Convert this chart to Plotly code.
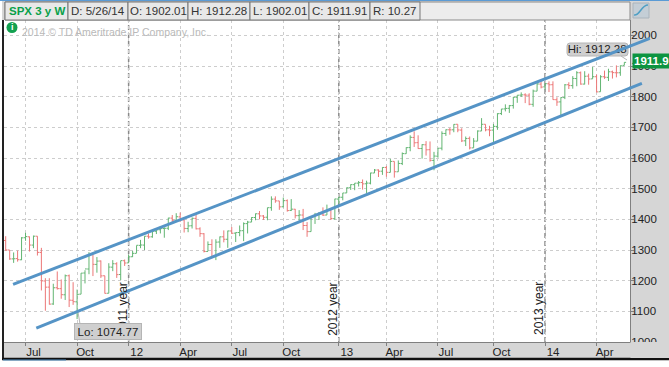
import plotly.graph_objects as go
import pandas as pd

W, H = 669, 367
ML, MR, MT, MB = 4, 39, 20, 25

week_start = "2011-05-30"
opens = [1331,1300,1271,1272,1268,1340,1343,1316,1345,1292,1199,1179,1124,1177,1174,1154,1216,1136,1131,1156,
 1225,1238,1285,1253,1264,1216,1159,1244,1255,1220,1265,1258,1278,1289,1315,1316,1345,1343,1361,1366,
 1370,1371,1404,1397,1408,1398,1370,1379,1403,1369,1353,1295,1318,1278,1326,1343,1335,1362,1355,1357,
 1363,1386,1391,1406,1418,1411,1407,1438,1466,1460,1441,1461,1429,1433,1412,1414,1380,1360,1409,1416,
 1418,1414,1430,1402,1466,1472,1486,1503,1513,1518,1520,1516,1518,1551,1561,1557,1569,1553,1589,1555,
 1582,1614,1634,1667,1650,1631,1643,1627,1592,1606,1632,1680,1692,1692,1710,1691,1656,1664,1633,1655,
 1688,1710,1692,1691,1703,1745,1760,1762,1771,1798,1805,1806,1805,1775,1818,1841,1832,1842,1839,1790,
 1783,1797,1839,1836,1859,1878,1841,1867,1858,1865,1816,1865,1863,1881,1878,1878,1902.01]
highs = [1345,1300,1292,1298,1342,1356,1344,1347,1345,1307,1208,1208,1190,1230,1204,1220,1220,1195,1171,1224.6,
 1234,1293,1285,1277,1266,1216,1257,1267,1260,1265,1269,1285,1297,1315,1333,1345,1354,1362,1368,1378,
 1374,1405,1414,1420,1422,1398,1392,1406,1415,1374,1355,1328,1335,1335,1344,1364,1363,1375,1357,1380,
 1390,1395,1407,1419,1427,1414,1438,1475,1475,1460,1471,1465,1466,1434,1430,1434,1391,1409,1421,1424,
 1439,1448,1430,1467,1473,1486,1504,1514,1518,1525,1530,1526,1552,1564,1563,1570,1574,1597,1589,1592,
 1618,1635,1674,1687,1674,1645,1655,1654,1620,1632,1687,1693,1698,1710,1710,1697,1670,1670,1665,1690,
 1730,1710,1705,1711,1746,1760,1775,1773,1799,1805,1814,1811,1811,1823,1844,1849,1843,1850,1850,1798,
 1798,1841,1847,1867,1883,1882,1883,1875,1897,1872,1870,1885,1891,1885,1902,1902,1912.28]
lows = [1297,1268,1258,1262,1267,1330,1295,1306,1282,1168,1102,1122,1121,1171,1141,1137,1114,1121,1074.77,1156,
 1191,1221,1215,1226,1209,1158,1159,1231,1209,1202,1248,1258,1277,1290,1306,1300,1337,1340,1352,1354,
 1340,1365,1386,1397,1392,1357,1358,1370,1367,1343,1292,1296,1277,1267,1307,1325,1307,1352,1326,1345,
 1329,1354,1391,1397,1400,1398,1397,1428,1454,1431,1439,1425,1427,1403,1396,1365,1343,1360,1385,1398,
 1411,1414,1398,1399,1451,1462,1486,1496,1495,1507,1497,1485,1514,1551,1538,1545,1539,1553,1536,1555,
 1577,1614,1622,1636,1630,1598,1608,1588,1560,1601,1625,1672,1676,1684,1684,1652,1639,1628,1633,1655,
 1688,1687,1671,1646,1692,1740,1752,1747,1761,1780,1799,1779,1772,1767,1818,1827,1823,1815,1790,1770,
 1737,1792,1825,1826,1834,1839,1840,1839,1858,1814,1816,1858,1851,1859,1863,1868,1902.01]
closes = [1300.16,1270.98,1271.50,1268.45,1339.67,1343.80,1316.14,1345.02,1292.28,1199.38,1178.81,1123.53,1176.80,1173.97,1154.23,1216.01,1136.43,1131.42,1155.46,1224.58,
 1238.25,1285.09,1253.23,1263.85,1215.65,1158.67,1244.28,1255.19,1219.66,1265.33,1257.60,1277.81,1289.09,1315.38,1316.33,1344.90,1342.64,1361.23,1365.74,1369.63,
 1370.87,1404.17,1397.11,1408.47,1398.08,1370.26,1378.53,1403.36,1369.10,1353.39,1295.22,1317.82,1278.04,1325.66,1342.84,1335.02,1362.16,1354.68,1356.78,1362.66,
 1385.97,1390.99,1405.87,1418.16,1411.13,1406.58,1437.92,1465.77,1460.15,1440.67,1460.93,1428.59,1433.19,1411.94,1414.20,1379.85,1359.88,1409.15,1416.18,1418.10,
 1413.58,1430.15,1402.43,1466.47,1472.05,1485.98,1502.96,1513.17,1517.93,1519.79,1515.60,1518.20,1551.18,1560.70,1556.89,1569.19,1553.28,1588.85,1555.25,1582.24,
 1614.42,1633.70,1667.47,1649.60,1630.74,1643.38,1626.73,1592.43,1606.28,1631.89,1680.19,1692.09,1691.65,1709.67,1691.42,1655.83,1663.50,1632.97,1655.17,1687.99,
 1709.91,1691.75,1690.50,1703.20,1744.50,1759.77,1761.64,1770.61,1798.18,1804.76,1805.81,1805.09,1775.32,1818.32,1841.40,1831.37,1842.37,1838.70,1790.29,1782.59,
 1797.02,1838.63,1836.25,1859.45,1878.04,1841.13,1866.52,1857.62,1865.09,1815.69,1864.85,1863.40,1881.14,1878.48,1877.86,1900.53,1911.91]

tick_dates = ["2011-07-04","2011-10-03","2012-01-02","2012-04-02","2012-07-02","2012-10-01",
              "2013-01-07","2013-04-01","2013-07-01","2013-10-07","2014-01-06","2014-04-07"]
tick_labels = ["Jul","Oct","12","Apr","Jul","Oct","13","Apr","Jul","Oct","14","Apr"]
price_ticks = [1000,1100,1200,1300,1400,1500,1600,1700,1800,1900,2000]
year_dates = ["2012-01-02","2013-01-07","2014-01-06"]
year_labels = ["2011 year","2012 year","2013 year"]
upper_x = ["2011-06-12","2014-07-10"]
upper_y = [1188,1990]
lower_x = ["2011-07-23","2014-06-26"]
lower_y = [1045,1843.5]
x_range = ["2011-05-27","2014-06-05"]
y_range = [1000,2050]
header_cells = [("SPX 3 y W",5,68),("D: 5/26/14",68,128),("O: 1902.01",128,188),("H: 1912.28",188,250),
                ("L: 1902.01",250,309),("C: 1911.91",309,370),("R: 10.27",370,420)]

dates = pd.date_range(week_start, periods=len(closes), freq="7D")

def px(x): return (x-ML)/(W-ML-MR)
def py(y): return 1-(y-MT)/(H-MT-MB)

FONT = "Liberation Sans, Arial, sans-serif"
GRAY = "#d6d6d6"
BLUE = "#5594c6"
shapes = []
def rect(x0,y0,x1,y1,fill,line=None,layer="above",lw=1):
    shapes.append(dict(type="rect",xref="paper",yref="paper",x0=px(x0),x1=px(x1),y0=py(y1),y1=py(y0),
        fillcolor=fill,line=dict(color=line or fill,width=lw if line else 0),layer=layer))
def rrect(x0,y0,x1,y1,r,fill,line,layer):
    X0,X1=px(x0),px(x1);Y0,Y1=py(y0),py(y1)
    dx=r/(W-ML-MR);dy=r/(H-MT-MB)
    p=(f"M{X0+dx},{Y0} L{X1-dx},{Y0} Q{X1},{Y0} {X1},{Y0-dy} L{X1},{Y1+dy} Q{X1},{Y1} {X1-dx},{Y1} "
       f"L{X0+dx},{Y1} Q{X0},{Y1} {X0},{Y1+dy} L{X0},{Y0-dy} Q{X0},{Y0} {X0+dx},{Y0} Z")
    shapes.append(dict(type="path",xref="paper",yref="paper",path=p,fillcolor=fill,line=dict(color=line,width=1),layer=layer))
def seg(x0,y0,x1,y1,color,w,layer="above",dash="solid"):
    shapes.append(dict(type="line",xref="paper",yref="paper",x0=px(x0),x1=px(x1),y0=py(y0),y1=py(y1),
        line=dict(color=color,width=w,dash=dash),layer=layer))

# window chrome
rect(0,358,669,367,"#ffffff",layer="below")
rect(0,0,2,367,"#ffffff",layer="below")
seg(3,20,3,359,"#222222",2)
seg(2,359,669,359,"#111111",2.5)
seg(3,360,66,360,"#4f8fc4",1)
seg(0,0.5,669,0.5,"#5b9bd5",1)
# clip of the bottom price label
rect(630.5,342,669,358,GRAY)
# header cells
rect(5,2,630,20,"#ececec","#8a8a8a")
for _,a,b in header_cells:
    rect(a,2,b,20,"#e8e8e8","#777777")
# toolbar icon
rect(633,3,649,18,"#c4ced6","#aab4bc")
shapes.append(dict(type="path",xref="paper",yref="paper",
    path=f"M{px(634)},{py(15)} C{px(640)},{py(16)} {px(641)},{py(5)} {px(648)},{py(5)}",
    line=dict(color="#4f9fc4",width=1.5),layer="above"))
# info dot
shapes.append(dict(type="circle",xref="paper",yref="paper",x0=px(6.5),x1=px(17.5),y0=py(33),y1=py(22),
    fillcolor="#12a150",line=dict(width=0),layer="above"))
# Hi box and connectors
rrect(567,43,628,56,3,"#cfcfcf","#b5b5b5","between")
seg(621,56,627,60,"#b5b5b5",1,"between")
seg(78,312,80,324,"#b5b5b5",1,"between")
# year lines
for d in year_dates:
    shapes.append(dict(type="line",xref="x",yref="paper",x0=d,x1=d,y0=0,y1=1,
        line=dict(color="#8a8a8a",width=1.5,dash="5px,3px"),layer="between"))
# the trend lines run past the plot edge over the price panel; traces are clipped there,
# so the part beyond the edge is a paper-referenced shape derived from the same values
t0, t1 = pd.Timestamp(x_range[0]), pd.Timestamp(x_range[1])
for xs, ys in ((upper_x, upper_y), (lower_x, lower_y)):
    a, b = pd.Timestamp(xs[0]), pd.Timestamp(xs[1])
    xa = (a-t0)/(t1-t0); xb = (b-t0)/(t1-t0)
    ya = (ys[0]-y_range[0])/(y_range[1]-y_range[0]); yb = (ys[1]-y_range[0])/(y_range[1]-y_range[0])
    ye = ya+(yb-ya)*(0.999-xa)/(xb-xa)
    shapes.append(dict(type="line",xref="paper",yref="paper",x0=0.999,y0=ye,x1=xb,y1=yb,
        line=dict(color=BLUE,width=3),layer="above"))

annotations = []
for d,t in zip(year_dates,year_labels):
    annotations.append(dict(x=d,xref="x",xanchor="center",y=py(309),yref="paper",yanchor="middle",text=t,textangle=-90,showarrow=False,
        xshift=-6,font=dict(family=FONT,size=12,color="#222222")))
annotations.append(dict(x=px(108),xref="paper",xanchor="center",y=py(331.5),yref="paper",yanchor="middle",text="Lo: 1074.77",showarrow=False,
    bgcolor="#cfcfcf",bordercolor="#b5b5b5",borderwidth=1,borderpad=1,width=64,height=13,
    font=dict(family=FONT,size=11.5,color="#222222")))
for i,(t,a,b) in enumerate(header_cells):
    annotations.append(dict(x=px((a+b)/2),xref="paper",xanchor="center",y=py(11),yref="paper",yanchor="middle",
        text=f"<b>{t}</b>" if i==0 else t,showarrow=False,
        font=dict(family=FONT,size=11.5,color="#0aa04a" if i==0 else "#333333")))
annotations.append(dict(x=px(20),xref="paper",xanchor="left",y=py(32),yref="paper",yanchor="middle",text="2014 © TD Ameritrade IP Company, Inc.",
    showarrow=False,font=dict(family=FONT,size=10.5,color="#b9b9b9")))
annotations.append(dict(x=px(12),xref="paper",xanchor="center",y=py(27.5),yref="paper",yanchor="middle",text="<b>i</b>",showarrow=False,
    font=dict(family=FONT,size=9,color="#ffffff")))
annotations.append(dict(x=px(632),xref="paper",xanchor="left",y=closes[-1],yref="y",yanchor="middle",yshift=1.5,text="<b>1911.91</b>",showarrow=False,
    bgcolor="#0c9440",borderpad=1,font=dict(family=FONT,size=11.5,color="#ffffff")))

fig = go.Figure()
fig.add_trace(go.Ohlc(x=dates,open=opens,high=highs,low=lows,close=closes,tickwidth=0.45,
    increasing=dict(line=dict(color="#62b572",width=1)),
    decreasing=dict(line=dict(color="#ec7777",width=1)),showlegend=False))
fig.add_trace(go.Scatter(x=["2014-04-08"],y=[1952],mode="text",text=["Hi: 1912.28"],textposition="middle center",
    textfont=dict(family=FONT,size=11.5,color="#222222"),cliponaxis=False,showlegend=False))
fig.add_trace(go.Scatter(x=upper_x,y=upper_y,mode="lines",line=dict(color=BLUE,width=3),showlegend=False))
fig.add_trace(go.Scatter(x=lower_x,y=lower_y,mode="lines",line=dict(color=BLUE,width=3),showlegend=False))

fig.update_layout(width=W,height=H,margin=dict(l=ML,r=MR,t=MT,b=MB,autoexpand=False),
    paper_bgcolor=GRAY,plot_bgcolor="#ffffff",showlegend=False,shapes=shapes,annotations=annotations,
    font=dict(family=FONT,size=11.5,color="#222222"))
fig.update_xaxes(type="date",range=x_range,tickmode="array",tickvals=tick_dates,ticktext=tick_labels,
    ticklabelshift=8,ticklabelstandoff=-4,showgrid=True,gridcolor="#cdcdcd",griddash="dot",gridwidth=1,
    showline=True,linecolor="#808080",ticks="outside",ticklen=3,tickcolor="#808080",rangeslider=dict(visible=False),
    tickfont=dict(family=FONT,size=11.5,color="#222222"))
fig.update_yaxes(side="right",range=y_range,tickmode="array",tickvals=price_ticks,ticklabelstandoff=-5,showgrid=True,gridcolor="#cdcdcd",griddash="dot",gridwidth=1,
    showline=True,linecolor="#808080",ticks="outside",ticklen=3,tickcolor="#808080",zeroline=False,
    tickfont=dict(family=FONT,size=11.5,color="#222222"))

fig.write_html("out.html",config=dict(displayModeBar=False),post_script="document.body.style.margin='0';document.body.style.overflow='hidden';")
